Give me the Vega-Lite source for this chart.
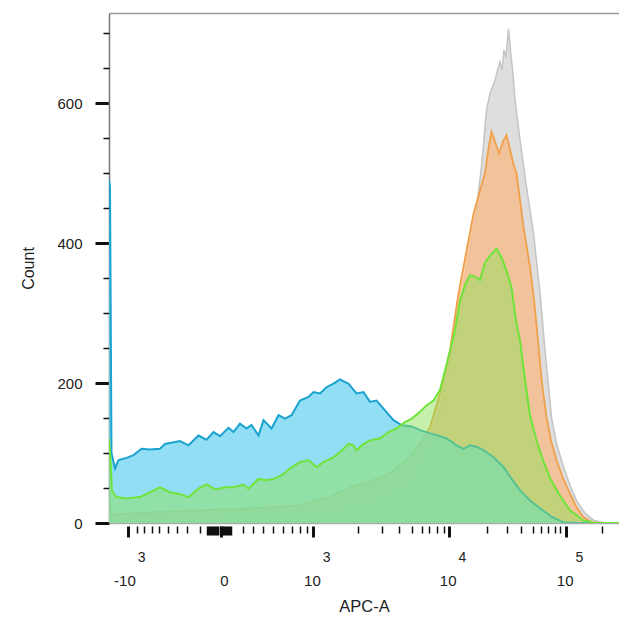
{
  "$schema": "https://vega.github.io/schema/vega-lite/v6.json",
  "width": 510,
  "height": 510,
  "autosize": {"type": "none"},
  "padding": {"left": 109, "top": 13, "right": 0, "bottom": 102},
  "config": {"view": {"stroke": null}, "font": "Liberation Sans", "axis": {"grid": false}},
  "datasets": {
    "gray": [
      {"c":0,"n":10},{"c":6,"n":5},{"c":100,"n":8},{"c":200,"n":10},{"c":300,"n":12},{"c":400,"n":15},{"c":442,"n":18},{"c":522,"n":30},{"c":575,"n":47},{"c":615,"n":71},{"c":635,"n":104},{"c":648,"n":128},{"c":662,"n":161},{"c":675,"n":204},{"c":685,"n":247},{"c":700,"n":300},{"c":712,"n":347},{"c":732,"n":432},{"c":745,"n":509},{"c":752,"n":566},{"c":755,"n":590},{"c":762,"n":614},{"c":772,"n":632},{"c":778,"n":650},{"c":782,"n":659},{"c":786,"n":647},{"c":790,"n":676},{"c":794,"n":665},{"c":799,"n":706},{"c":804,"n":668},{"c":808,"n":640},{"c":812,"n":604},{"c":822,"n":547},{"c":835,"n":480},{"c":849,"n":414},{"c":862,"n":328},{"c":872,"n":247},{"c":885,"n":151},{"c":896,"n":111},{"c":909,"n":80},{"c":922,"n":54},{"c":935,"n":32},{"c":952,"n":14},{"c":969,"n":4},{"c":992,"n":0},{"c":1020,"n":0}
    ],
    "orange": [
      {"c":0,"n":30},{"c":6,"n":12},{"c":15,"n":12},{"c":82,"n":15},{"c":182,"n":18},{"c":282,"n":21},{"c":382,"n":25},{"c":422,"n":34},{"c":442,"n":37},{"c":482,"n":51},{"c":522,"n":59},{"c":562,"n":71},{"c":595,"n":90},{"c":622,"n":113},{"c":642,"n":137},{"c":662,"n":185},{"c":675,"n":223},{"c":682,"n":247},{"c":699,"n":328},{"c":709,"n":366},{"c":729,"n":442},{"c":752,"n":500},{"c":760,"n":540},{"c":765,"n":559},{"c":772,"n":545},{"c":780,"n":528},{"c":788,"n":545},{"c":795,"n":554},{"c":800,"n":540},{"c":808,"n":515},{"c":815,"n":500},{"c":829,"n":423},{"c":842,"n":366},{"c":850,"n":320},{"c":858,"n":260},{"c":866,"n":200},{"c":875,"n":151},{"c":884,"n":118},{"c":895,"n":90},{"c":908,"n":64},{"c":922,"n":42},{"c":934,"n":24},{"c":948,"n":9},{"c":966,"n":1},{"c":982,"n":0},{"c":1020,"n":0}
    ],
    "blue": [
      {"c":0,"n":490},{"c":2,"n":480},{"c":5,"n":100},{"c":12,"n":78},{"c":19,"n":90},{"c":35,"n":93},{"c":49,"n":97},{"c":65,"n":106},{"c":82,"n":105},{"c":102,"n":106},{"c":112,"n":113},{"c":142,"n":117},{"c":159,"n":111},{"c":179,"n":125},{"c":195,"n":119},{"c":209,"n":130},{"c":222,"n":124},{"c":239,"n":136},{"c":249,"n":130},{"c":262,"n":142},{"c":275,"n":135},{"c":285,"n":140},{"c":299,"n":125},{"c":309,"n":147},{"c":325,"n":135},{"c":339,"n":154},{"c":352,"n":149},{"c":365,"n":154},{"c":382,"n":175},{"c":399,"n":180},{"c":409,"n":187},{"c":422,"n":185},{"c":435,"n":194},{"c":449,"n":199},{"c":462,"n":205},{"c":479,"n":199},{"c":495,"n":185},{"c":509,"n":187},{"c":522,"n":173},{"c":535,"n":175},{"c":552,"n":161},{"c":569,"n":147},{"c":585,"n":140},{"c":605,"n":138},{"c":625,"n":132},{"c":642,"n":128},{"c":662,"n":124},{"c":675,"n":121},{"c":695,"n":111},{"c":709,"n":106},{"c":722,"n":111},{"c":735,"n":109},{"c":749,"n":104},{"c":769,"n":94},{"c":789,"n":80},{"c":805,"n":63},{"c":822,"n":47},{"c":842,"n":32},{"c":862,"n":21},{"c":885,"n":9},{"c":909,"n":1},{"c":932,"n":0},{"c":1020,"n":0}
    ],
    "green": [
      {"c":0,"n":120},{"c":3,"n":90},{"c":6,"n":45},{"c":15,"n":37},{"c":35,"n":35},{"c":62,"n":37},{"c":82,"n":44},{"c":102,"n":51},{"c":122,"n":44},{"c":142,"n":41},{"c":159,"n":37},{"c":179,"n":49},{"c":195,"n":55},{"c":212,"n":48},{"c":232,"n":51},{"c":249,"n":51},{"c":269,"n":55},{"c":279,"n":49},{"c":299,"n":63},{"c":315,"n":61},{"c":329,"n":63},{"c":345,"n":68},{"c":362,"n":78},{"c":382,"n":87},{"c":399,"n":90},{"c":415,"n":80},{"c":429,"n":87},{"c":449,"n":94},{"c":462,"n":101},{"c":479,"n":113},{"c":489,"n":111},{"c":495,"n":104},{"c":509,"n":113},{"c":522,"n":118},{"c":542,"n":121},{"c":559,"n":130},{"c":575,"n":135},{"c":592,"n":144},{"c":605,"n":149},{"c":622,"n":159},{"c":635,"n":168},{"c":649,"n":175},{"c":662,"n":190},{"c":672,"n":218},{"c":682,"n":246},{"c":692,"n":275},{"c":702,"n":318},{"c":712,"n":340},{"c":722,"n":354},{"c":732,"n":352},{"c":742,"n":347},{"c":752,"n":372},{"c":762,"n":382},{"c":775,"n":392},{"c":786,"n":378},{"c":796,"n":358},{"c":805,"n":337},{"c":814,"n":289},{"c":822,"n":261},{"c":832,"n":204},{"c":842,"n":154},{"c":855,"n":118},{"c":868,"n":90},{"c":882,"n":64},{"c":902,"n":39},{"c":922,"n":18},{"c":948,"n":4},{"c":972,"n":0},{"c":1020,"n":0}
    ]
  },
  "resolve": {"axis": {"x": "independent", "y": "independent"}},
  "layer": [
    {
      "data": {"name": "gray"},
      "mark": {"type": "area", "color": "#dedede", "opacity": 1, "clip": true},
      "encoding": {
        "x": {"field": "c", "type": "quantitative", "scale": {"domain": [0, 1020], "nice": false, "zero": false},
          "axis": {"orient": "bottom", "values": [56.6,70.6,85.4,100.6,117.4,136.6,156.6,182,268.6,288.6,308.6,328.6,348.6,365.4,382,395.4,498.6,546.6,580.6,605.4,625.4,640.6,655.4,670,755.4,795.4,823.4,847.4,863.4,878.6,891.4,902,985.4],
            "labels": false, "domain": false, "tickSize": 7, "tickWidth": 1.5, "tickColor": "#111", "offset": 3, "title": null}},
        "y": {"field": "n", "type": "quantitative", "stack": null, "scale": {"domain": [0, 728.6], "nice": false},
          "axis": {"orient": "left", "values": [0, 200, 400, 600], "tickSize": 14, "tickWidth": 3, "tickColor": "#111",
            "domain": true, "domainColor": "#777", "domainWidth": 1.5, "labelPadding": 13, "labelFontSize": 15, "labelColor": "#222",
            "labelFlush": false, "title": "Count", "titleFontSize": 16, "titleFontWeight": "normal", "titleColor": "#222", "titlePadding": 20}}
      }
    },
    {
      "data": {"name": "gray"},
      "mark": {"type": "line", "color": "#c4c4c4", "strokeWidth": 1.5, "clip": true},
      "encoding": {
        "x": {"field": "c", "type": "quantitative", "scale": {"domain": [0, 1020], "nice": false, "zero": false},
          "axis": {"orient": "top", "domain": true, "domainColor": "#9a9a9a", "domainWidth": 1.5, "ticks": false, "labels": false, "title": null}},
        "y": {"field": "n", "type": "quantitative", "axis": null}
      }
    },
    {
      "data": {"name": "orange"},
      "mark": {"type": "area", "color": "#f6bd8e", "opacity": 0.85, "clip": true},
      "encoding": {
        "x": {"field": "c", "type": "quantitative", "scale": {"domain": [0, 1020], "nice": false, "zero": false},
          "axis": {"orient": "bottom", "values": [38.6, 224, 408.6, 680, 914],
            "labelExpr": "datum.value < 100 ? '-10' : (datum.value < 300 ? '0' : '10')",
            "domain": false, "tickSize": 11, "tickWidth": 3, "tickColor": "#111", "offset": 3, "labelPadding": 36,
            "labelAlign": "right", "labelOffset": 7, "labelFontSize": 15, "labelColor": "#222", "labelFlush": false, "labelOverlap": false,
            "title": "APC-A", "titleFontSize": 16.5, "titleFontWeight": "normal", "titleColor": "#222", "titlePadding": 10}},
        "y": {"field": "n", "type": "quantitative", "stack": null,
          "axis": {"orient": "left", "values": [50,100,150,250,300,350,450,500,550,650,700], "tickSize": 6, "tickWidth": 1.5, "tickColor": "#111",
            "labels": false, "domain": false, "title": null}}
      }
    },
    {
      "data": {"name": "orange"},
      "mark": {"type": "line", "color": "#f0a04a", "strokeWidth": 1.8, "clip": true},
      "encoding": {
        "x": {"field": "c", "type": "quantitative", "scale": {"domain": [0, 1020], "nice": false, "zero": false},
          "axis": {"orient": "bottom", "domain": true, "domainColor": "#aaaaaa", "domainWidth": 1.5, "ticks": false, "labels": false, "title": null}},
        "y": {"field": "n", "type": "quantitative", "axis": null}
      }
    },
    {
      "data": {"name": "blue"},
      "mark": {"type": "area", "color": "#76d6f3", "opacity": 0.8, "clip": true},
      "encoding": {
        "x": {"field": "c", "type": "quantitative", "scale": {"domain": [0, 1020], "nice": false, "zero": false},
          "axis": {"orient": "bottom", "values": [198, 204, 210, 216, 224, 230, 236, 242], "labels": false, "domain": false,
            "tickSize": 9, "tickWidth": 3.5, "tickColor": "#111", "offset": 3, "title": null}},
        "y": {"field": "n", "type": "quantitative", "stack": null, "axis": null}
      }
    },
    {
      "data": {"name": "blue"},
      "mark": {"type": "line", "color": "#1aa3cf", "strokeWidth": 2, "clip": true},
      "encoding": {
        "x": {"field": "c", "type": "quantitative", "axis": null},
        "y": {"field": "n", "type": "quantitative", "axis": null}
      }
    },
    {
      "data": {"name": "green"},
      "mark": {"type": "area", "color": "#8fe25a", "opacity": 0.5, "clip": true},
      "encoding": {
        "x": {"field": "c", "type": "quantitative", "scale": {"domain": [0, 1020], "nice": false, "zero": false},
          "axis": {"orient": "bottom", "values": [38.6, 408.6, 680, 914],
            "labelExpr": "datum.value < 500 ? '3' : (datum.value < 800 ? '4' : '5')",
            "ticks": false, "tickSize": 0, "domain": false, "offset": 3, "labelPadding": 24, "labelAlign": "left", "labelOffset": 9,
            "labelFontSize": 14, "labelColor": "#222", "labelFlush": false, "labelOverlap": false, "title": null}},
        "y": {"field": "n", "type": "quantitative", "stack": null, "axis": null}
      }
    },
    {
      "data": {"name": "green"},
      "mark": {"type": "line", "color": "#6fe43a", "strokeWidth": 2, "clip": true},
      "encoding": {
        "x": {"field": "c", "type": "quantitative", "axis": null},
        "y": {"field": "n", "type": "quantitative", "axis": null}
      }
    }
  ]
}
